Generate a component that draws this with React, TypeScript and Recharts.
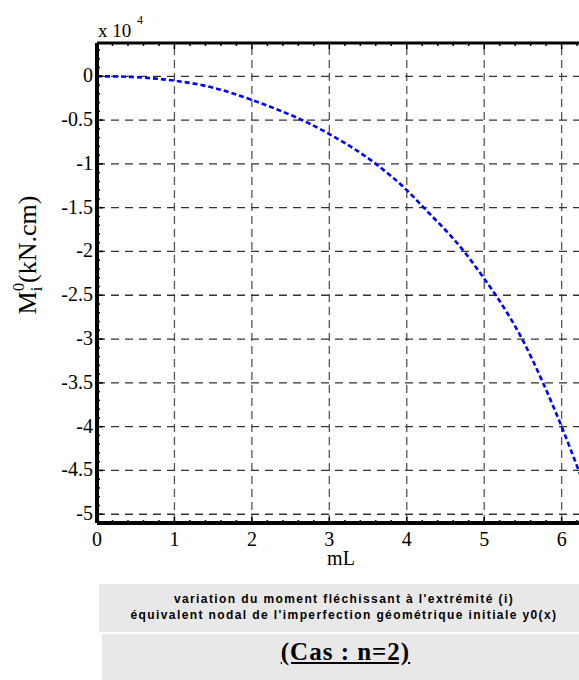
import React from 'react';
import { LineChart, Line, XAxis, YAxis, ReferenceLine } from 'recharts';

// mL values (x) and moment M_i^0 (x 10^4 kN.cm)
const mL = [0, 0.3, 0.5, 0.8, 1, 1.5, 2, 2.3, 2.65, 3, 3.6, 4, 4.22, 4.74, 5, 5.15, 5.49, 5.76, 6.0, 6.22, 6.25];
const moment = [0, -0.003, -0.01, -0.03, -0.05, -0.13, -0.27, -0.37, -0.5, -0.66, -1.0, -1.3, -1.5, -2.0, -2.31, -2.5, -3.0, -3.5, -4.0, -4.5, -4.57];

const xMajorTicks = [0, 1, 2, 3, 4, 5, 6];
const yMajorTicks = [0, -0.5, -1, -1.5, -2, -2.5, -3, -3.5, -4, -4.5, -5];
const yTickLabels = ['0', '-0.5', '-1', '-1.5', '-2', '-2.5', '-3', '-3.5', '-4', '-4.5', '-5'];

const X_DOMAIN: [number, number] = [0, 6.25];
const Y_DOMAIN: [number, number] = [-5.1, 0.38];

const xMinorTicks: number[] = [];
for (let i = 0; i <= 31; i++) xMinorTicks.push(Math.round(i * 2) / 10);
const yMinorTicks: number[] = [];
for (let i = -51; i <= 3; i++) yMinorTicks.push(i / 10);

const data = mL.map((x, i) => ({ x, m: moment[i] }));

const isMajor = (v: number, arr: number[]) => arr.some((a) => Math.abs(a - v) < 1e-6);

const serif = '"Liberation Serif", "Times New Roman", serif';

const LeftTick = (props: any) => {
  const { x, y, payload } = props;
  const v = payload.value;
  const major = isMajor(v, yMajorTicks);
  const idx = yMajorTicks.findIndex((a) => Math.abs(a - v) < 1e-6);
  return (
    <g>
      <line x1={x} x2={x + (major ? 6 : 3)} y1={y} y2={y} stroke="#000" strokeWidth={1.5} />
      {major && (
        <text x={x - 4} y={y + 6} textAnchor="end" fontFamily={serif} fontSize={20} fill="#000">
          {yTickLabels[idx]}
        </text>
      )}
    </g>
  );
};

const BottomTick = (props: any) => {
  const { x, y, payload } = props;
  const v = payload.value;
  const major = isMajor(v, xMajorTicks);
  return (
    <g>
      <line x1={x} x2={x} y1={y} y2={y - (major ? 6 : 3)} stroke="#000" strokeWidth={1.5} />
      {major && (
        <text x={x} y={y + 23} textAnchor="middle" fontFamily={serif} fontSize={20} fill="#000">
          {String(v)}
        </text>
      )}
    </g>
  );
};

const TopTick = (props: any) => {
  const { x, y, payload } = props;
  const v = payload.value;
  const major = isMajor(v, xMajorTicks);
  return <line x1={x} x2={x} y1={y} y2={y + (major ? 6 : 3)} stroke="#000" strokeWidth={1.5} />;
};

export default function App() {
  return (
    <div style={{ position: 'absolute', left: 0, top: 0, width: 579, height: 680, overflow: 'hidden', background: '#fff' }}>
      <div style={{ position: 'absolute', left: 0, top: 0 }}>
        <LineChart width={600} height={680} data={data} margin={{ top: 0, right: 19, bottom: 0, left: 0 }}>
          <XAxis
            dataKey="x"
            type="number"
            domain={X_DOMAIN}
            ticks={xMinorTicks}
            interval={0}
            height={157}
            tickSize={0}
            tickMargin={0}
            tick={<BottomTick />}
            axisLine={{ stroke: '#000', strokeWidth: 4 }}
            allowDataOverflow
          />
          <XAxis
            xAxisId="top"
            orientation="top"
            dataKey="x"
            type="number"
            domain={X_DOMAIN}
            ticks={xMinorTicks}
            interval={0}
            height={43}
            tickSize={0}
            tickMargin={0}
            tick={<TopTick />}
            axisLine={{ stroke: '#000', strokeWidth: 3 }}
            allowDataOverflow
          />
          <YAxis
            type="number"
            domain={Y_DOMAIN}
            ticks={yMinorTicks}
            interval={0}
            width={97}
            tickSize={0}
            tickMargin={0}
            tick={<LeftTick />}
            axisLine={{ stroke: '#000', strokeWidth: 4 }}
            allowDataOverflow
          />
          {xMajorTicks.slice(1).map((t) => (
            <ReferenceLine key={'vx' + t} x={t} stroke="#555" strokeWidth={1.3} strokeDasharray="8 5" />
          ))}
          {yMajorTicks.map((t) => (
            <ReferenceLine key={'hy' + t} y={t} stroke="#333" strokeWidth={1.3} strokeDasharray="8 6" />
          ))}
          <Line
            type="monotone"
            dataKey="m"
            stroke="#0000ff"
            strokeWidth={2.6}
            strokeDasharray="5 3"
            dot={false}
            isAnimationActive={false}
          />
        </LineChart>
      </div>
      <svg width={579} height={680} style={{ position: 'absolute', left: 0, top: 0, pointerEvents: 'none' }}>
        <text x={98} y={37} fontFamily={serif} fontSize={19} fill="#000">x 10</text>
        <text x={137} y={24} fontFamily={serif} fontSize={12} fill="#000">4</text>
        <text x={341} y={565} textAnchor="middle" fontFamily={serif} fontSize={20} fill="#000">mL</text>
        <text transform="translate(36,255) rotate(-90)" textAnchor="middle" fontFamily={serif} fontSize={26} fill="#000">
          M<tspan fontSize={16} dy={6}>i</tspan>
          <tspan fontSize={16} dx={-4} dy={-18}>0</tspan>
          <tspan dy={12}>(kN.cm)</tspan>
        </text>
      </svg>
      <div
        style={{
          position: 'absolute',
          left: 99,
          top: 584,
          width: 490,
          height: 48,
          background: '#e8e8e8',
          fontFamily: '"Liberation Sans", Arial, sans-serif',
          fontWeight: 'bold',
          fontSize: 12,
          letterSpacing: 1.4,
          lineHeight: '16px',
          textAlign: 'center',
          paddingTop: 7,
          boxSizing: 'border-box',
          color: '#000',
        }}
      >
        <div>variation du moment fléchissant à l'extrémité (i)</div>
        <div>équivalent nodal de l'imperfection géométrique initiale y0(x)</div>
      </div>
      <div
        style={{
          position: 'absolute',
          left: 102,
          top: 634,
          width: 487,
          height: 46,
          background: '#e8e8e8',
          fontFamily: serif,
          fontWeight: 'bold',
          fontSize: 25,
          letterSpacing: 1,
          textAlign: 'center',
          lineHeight: '36px',
          color: '#000',
        }}
      >
        <span style={{ textDecoration: 'underline' }}>(Cas : n=2)</span>
      </div>
    </div>
  );
}
